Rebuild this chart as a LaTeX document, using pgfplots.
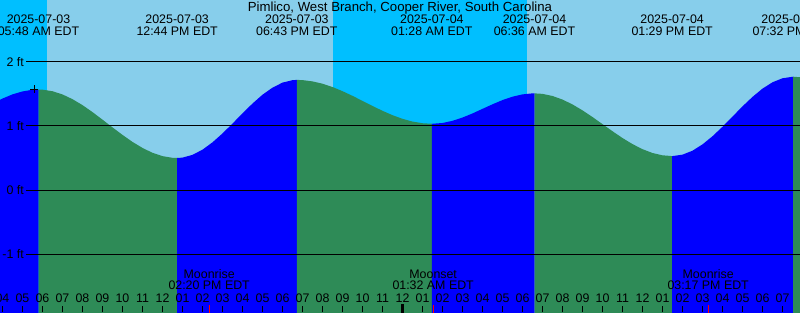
\documentclass[border=0pt]{standalone}
\usepackage{fontspec}
\setmainfont{Liberation Sans}
\usepackage{pgfplots}
\pgfplotsset{compat=1.18}
\definecolor{daysky}{HTML}{87CEEB}
\definecolor{nightsky}{HTML}{00BFFF}
\definecolor{rise}{HTML}{0000FF}
\definecolor{fall}{HTML}{2E8B57}
\begin{document}
\begin{tikzpicture}[font=\fontsize{12.4}{14}\selectfont]
\begin{axis}[
  width=800pt, height=312pt, scale only axis,
  xmin=-2.125, xmax=37.875, ymin=-1.90625, ymax=2.96875,
  axis x line=bottom, axis y line=none,
  x axis line style={draw=none},
  xtick={-2,...,38},
  xticklabels={04,05,06,07,08,09,10,11,12,01,02,03,04,05,06,07,08,09,10,11,12,01,02,03,04,05,06,07,08,09,10,11,12,01,02,03,04,05,06,07,08},
  tick align=inside, major tick length=6pt,
  xtick style={black, line width=1pt},
  xticklabel style={anchor=center, yshift=14pt},
  axis on top,
  clip=true,
]
\coordinate (bl) at (rel axis cs:0,0);
\coordinate (tr) at (rel axis cs:1,1);
% sky
\addplot[fill=daysky, draw=none] coordinates {(-2.125,-2.5) (37.875,-2.5) (37.875,3.5) (-2.125,3.5)} -- cycle;
\addplot[fill=nightsky, draw=none] coordinates {(-2.125,-2.5) (0.21,-2.5) (0.21,3.5) (-2.125,3.5)} -- cycle;
\addplot[fill=nightsky, draw=none] coordinates {(14.51,-2.5) (24.21,-2.5) (24.21,3.5) (14.51,3.5)} -- cycle;
% tide areas
\addplot[fill=rise, draw=none] coordinates {(-2.125,1.410) (-2.0,1.429) (-1.5,1.494) (-1.0,1.540) (-0.5,1.566) (-0.2,1.570)} -- (-0.2,-2.5) -- (-2.125,-2.5) -- cycle;
\addplot[fill=fall, draw=none] coordinates {(-0.2,1.570) (0,1.568) (0.5,1.543) (1,1.493) (1.5,1.419) (2,1.326) (2.5,1.217) (3,1.099) (3.5,0.978) (4,0.861) (4.5,0.751) (5,0.657) (5.5,0.581) (6,0.529) (6.5,0.503) (6.733,0.500)} -- (6.733,-2.5) -- (-0.2,-2.5) -- cycle;
\addplot[fill=rise, draw=none] coordinates {(6.733,0.500) (7,0.506) (7.5,0.549) (8,0.630) (8.5,0.745) (9,0.884) (9.5,1.038) (10,1.198) (10.5,1.351) (11,1.489) (11.5,1.599) (12,1.678) (12.5,1.716) (12.717,1.720)} -- (12.717,-2.5) -- (6.733,-2.5) -- cycle;
\addplot[fill=fall, draw=none] coordinates {(12.717,1.720) (13,1.717) (13.5,1.697) (14,1.661) (14.5,1.609) (15,1.544) (15.5,1.471) (16,1.392) (16.5,1.313) (17,1.237) (17.5,1.169) (18,1.112) (18.5,1.069) (19,1.043) (19.467,1.035)} -- (19.467,-2.5) -- (12.717,-2.5) -- cycle;
\addplot[fill=rise, draw=none] coordinates {(19.467,1.035) (19.5,1.035) (20,1.047) (20.5,1.081) (21,1.132) (21.5,1.196) (22,1.268) (22.5,1.339) (23,1.405) (23.5,1.458) (24,1.494) (24.5,1.510) (24.6,1.510)} -- (24.6,-2.5) -- (19.467,-2.5) -- cycle;
\addplot[fill=fall, draw=none] coordinates {(24.6,1.510) (25,1.502) (25.5,1.469) (26,1.413) (26.5,1.337) (27,1.244) (27.5,1.140) (28,1.029) (28.5,0.918) (29,0.812) (29.5,0.717) (30,0.638) (30.5,0.578) (31,0.542) (31.483,0.530)} -- (31.483,-2.5) -- (24.6,-2.5) -- cycle;
\addplot[fill=rise, draw=none] coordinates {(31.483,0.530) (31.5,0.530) (32,0.552) (32.5,0.614) (33,0.713) (33.5,0.840) (34,0.988) (34.5,1.147) (35,1.307) (35.5,1.455) (36,1.584) (36.5,1.683) (37,1.746) (37.533,1.770)} -- (37.533,-2.5) -- (31.483,-2.5) -- cycle;
\addplot[fill=fall, draw=none] coordinates {(37.533,1.770) (37.875,1.762) (38,1.756)} -- (38,-2.5) -- (37.533,-2.5) -- cycle;
% grid lines
\addplot[black, line width=1pt] coordinates {(-0.825,2) (37.875,2)};
\addplot[black, line width=1pt] coordinates {(-0.825,1) (37.875,1)};
\addplot[black, line width=1pt] coordinates {(-0.825,0) (37.875,0)};
\addplot[black, line width=1pt] coordinates {(-0.825,-1) (37.875,-1)};
% current-time mark
\addplot[black, mark=+, mark size=4pt, line width=1pt, only marks] coordinates {(-0.41,1.573)};
% midnight and moon ticks
\addplot[black, line width=3pt] coordinates {(18,-1.95) (18,-1.78)};
\addplot[red, line width=1pt] coordinates {(8.333,-1.95) (8.333,-1.80)};
\addplot[red, line width=1pt] coordinates {(19.533,-1.95) (19.533,-1.80)};
\addplot[red, line width=1pt] coordinates {(33.283,-1.95) (33.283,-1.80)};
% y labels
\node[anchor=east, inner sep=0pt] at (axis cs:-0.925,2) {2 ft};
\node[anchor=east, inner sep=0pt] at (axis cs:-0.925,1) {1 ft};
\node[anchor=east, inner sep=0pt] at (axis cs:-0.925,0) {0 ft};
\node[anchor=east, inner sep=0pt] at (axis cs:-0.925,-1) {-1 ft};
% title
\node[inner sep=0pt, font=\fontsize{13.2}{15}\selectfont] at (axis cs:17.875,2.844) {Pimlico, West Branch, Cooper River, South Carolina};
% tide times
\node[inner sep=0pt] at (axis cs:-0.2,2.672) {2025-07-03};
\node[inner sep=0pt] at (axis cs:-0.2,2.484) {05:48 AM EDT};
\node[inner sep=0pt] at (axis cs:6.733,2.672) {2025-07-03};
\node[inner sep=0pt] at (axis cs:6.733,2.484) {12:44 PM EDT};
\node[inner sep=0pt] at (axis cs:12.717,2.672) {2025-07-03};
\node[inner sep=0pt] at (axis cs:12.717,2.484) {06:43 PM EDT};
\node[inner sep=0pt] at (axis cs:19.467,2.672) {2025-07-04};
\node[inner sep=0pt] at (axis cs:19.467,2.484) {01:28 AM EDT};
\node[inner sep=0pt] at (axis cs:24.6,2.672) {2025-07-04};
\node[inner sep=0pt] at (axis cs:24.6,2.484) {06:36 AM EDT};
\node[inner sep=0pt] at (axis cs:31.483,2.672) {2025-07-04};
\node[inner sep=0pt] at (axis cs:31.483,2.484) {01:29 PM EDT};
\node[inner sep=0pt] at (axis cs:37.533,2.672) {2025-07-04};
\node[inner sep=0pt] at (axis cs:37.533,2.484) {07:32 PM EDT};
% moon events
\node[inner sep=0pt] at (axis cs:8.333,-1.3125) {Moonrise};
\node[inner sep=0pt] at (axis cs:8.333,-1.484) {02:20 PM EDT};
\node[inner sep=0pt] at (axis cs:19.533,-1.3125) {Moonset};
\node[inner sep=0pt] at (axis cs:19.533,-1.484) {01:32 AM EDT};
\node[inner sep=0pt] at (axis cs:33.283,-1.3125) {Moonrise};
\node[inner sep=0pt] at (axis cs:33.283,-1.484) {03:17 PM EDT};
\end{axis}
\pgfresetboundingbox
\useasboundingbox (bl) rectangle (tr);
\end{tikzpicture}
\end{document}
